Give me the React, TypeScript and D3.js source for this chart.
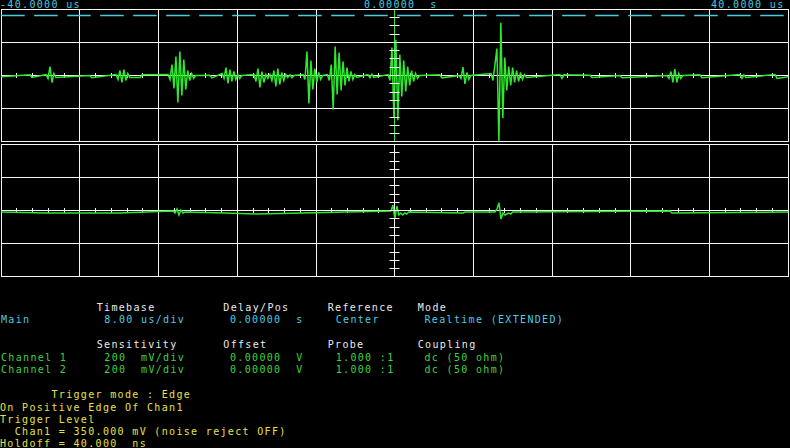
import React from "react";
import * as d3 from "d3";

// ---- data ----
const timeDomain = [-40, 40]; // us
const voltDomain = [-400, 400]; // mV
const divTimeStep = 8; // us/div
const minorTimeStep = 1.6;
const divVoltStep = 200; // mV/div
const minorVoltStep = 50;
const sampleStepUs = 0.2;
const triggerMarkerMv = 360;
const topTimeLabels = ["-40.0000 us", "0.00000  s", "40.0000 us"];

const ch1BaselineMv = -8;
const ch1BurstStartUs = [
  -37.07, -35.44, -31.0, -28.33, -25.89, -23.04, -18.78, -17.55, -14.3, -12.68, -10.64, -9.32,
  -6.85, -2.72, -0.68, 4.6, 6.54, 9.79, 16.8, 19.85, 22.9, 27.68, 31.03, 35.1, 38.66,
];
const ch1BurstMv = [
  [4, -12],
  [6, -18, 54, -42, 12, -12],
  [0, -14],
  [6, -24, 30, -42, 36, -30, 12, -12],
  [-12, 4],
  [6, -24, 66, -78, 114, -162, 144, -120, 96, -84, 30, -30, 12, -18, 0],
  [2, -14],
  [12, -18, 48, -48, 36, -36, 24, -24, 6, -18, 0],
  [6, -36, 42, -72, 24, -42, 6, -18],
  [6, -30, 30, -66, 42, -54, 18, -30, 6, -12],
  [4, -14, 0],
  [6, -24, 144, -168, 90, -84, 42, -42, 18, -24, 0],
  [6, -30, 66, -204, 174, -114, 138, -90, 84, -60, 48, -36, 24, -24, 6, -12],
  [6, -14, 8, -12],
  [6, -30, 168, -252, 216, -270, 126, -126, 90, -96, 54, -60, 30, -36, 12, -18, 0],
  [4, -14],
  [0, -18, 51, -51, 18, -24, 0],
  [12, -30, 66, 162, -396, 318, -258, 108, -90, 54, -60, 48, -42, 30, -36, 18, -24, 6, -12],
  [6, -18, 4],
  [2, -12],
  [0, -14],
  [0, -18, 24, -42, 39, -42, 12, -18, 0],
  [4, -14],
  [6, -18, 4, -12],
  [6, -18],
];

const ch2BaselineMv = -8;
const ch2BurstStartUs = [-35.34, -28.01, -22.53, -17.24, -13.99, -0.38, 6.95, 10.2, 27.98];
const ch2BurstMv = [
  [-14],
  [-14],
  [-2, -14, 10, -26, 4, -14, -8],
  [-14],
  [-20],
  [-2, 34, -50, 28, -26, -14, -26, -14, -20, -8],
  [-14, -8],
  [-8, 10, 48, -50, -14, -26, -20, -14, -20, -8],
  [-2, -14],
];

const infoHeaders1 = ["Timebase", "Delay/Pos", "Reference", "Mode"];
const infoMain = ["Main", "8.00 us/div", "0.00000  s", "Center", "Realtime (EXTENDED)"];
const infoHeaders2 = ["Sensitivity", "Offset", "Probe", "Coupling"];
const infoCh1 = ["Channel 1", "200  mV/div", "0.00000  V", "1.000 :1", "dc (50 ohm)"];
const infoCh2 = ["Channel 2", "200  mV/div", "0.00000  V", "1.000 :1", "dc (50 ohm)"];
const triggerLines = [
  "       Trigger mode : Edge",
  "On Positive Edge Of Chan1",
  "Trigger Level",
  "  Chan1 = 350.000 mV (noise reject OFF)",
  "Holdoff = 40.000  ns",
];

// ---- styles ----
const C = {
  grid: "#f6f6f6",
  cyan: "#4ccbe0",
  trace: "#2ee82e",
  green: "#3fd43f",
  yellow: "#e6e14a",
  white: "#eaeaea",
};
const FONT = "'DejaVu Sans Mono', monospace";

const crisp = (v: number) => Math.floor(v) + 0.5;

function tracePoints(baseline: number, starts: number[], bursts: number[][]) {
  const pts: [number, number][] = [[timeDomain[0], baseline]];
  starts.forEach((s, i) => bursts[i].forEach((v, j) => pts.push([s + j * sampleStepUs, v])));
  pts.push([timeDomain[1], baseline]);
  return pts;
}

function T({ x, y, color, children, anchor }: any) {
  return (
    <text
      x={x}
      y={y}
      fill={color}
      textAnchor={anchor || "start"}
      style={{ fontFamily: FONT, fontSize: 10, letterSpacing: 1.33, whiteSpace: "pre" }}
    >
      {children}
    </text>
  );
}

export default function App() {
  const W = 790;
  const H = 448;
  const x = d3.scaleLinear().domain(timeDomain).range([1.2, 788.2]);
  const y1 = d3.scaleLinear().domain(voltDomain).range([141.9, 9.1]);
  const y2 = d3.scaleLinear().domain(voltDomain).range([276.9, 144.5]);

  const nDiv = (timeDomain[1] - timeDomain[0]) / divTimeStep;
  const timeGrid = d3.range(nDiv + 1).map((i) => timeDomain[0] + i * divTimeStep);
  const nMinor = (timeDomain[1] - timeDomain[0]) / minorTimeStep;
  const timeMinor = d3.range(nMinor + 1).map((i) => timeDomain[0] + i * minorTimeStep);
  const nV = (voltDomain[1] - voltDomain[0]) / divVoltStep;
  const voltGrid = d3.range(nV + 1).map((i) => voltDomain[0] + i * divVoltStep);
  const nVm = (voltDomain[1] - voltDomain[0]) / minorVoltStep;
  const voltMinor = d3.range(nVm + 1).map((i) => voltDomain[0] + i * minorVoltStep);

  const xl = x(timeDomain[0]);
  const xr = x(timeDomain[1]);
  const xc = crisp(x(0));

  const panel = (y: d3.ScaleLinear<number, number>, key: string) => {
    const top = y(voltDomain[1]);
    const bot = y(voltDomain[0]);
    const axisY = crisp(y(0));
    return (
      <g key={key}>
        {timeGrid.map((t) => (
          <line key={"v" + t} x1={crisp(x(t))} x2={crisp(x(t))} y1={Math.floor(top)} y2={Math.floor(bot) + 1} stroke={C.grid} strokeWidth={1} />
        ))}
        {voltGrid.map((v) => (
          <line key={"h" + v} x1={Math.floor(xl)} x2={Math.floor(xr) + 1} y1={crisp(y(v))} y2={crisp(y(v))} stroke={C.grid} strokeWidth={1} />
        ))}
        {timeMinor.map((t) => (
          <line key={"tm" + t} x1={crisp(x(t))} x2={crisp(x(t))} y1={axisY - 2.5} y2={axisY + 2.5} stroke={C.grid} strokeWidth={1} />
        ))}
      </g>
    );
  };

  const vTicks = (y: d3.ScaleLinear<number, number>, key: string) => (
    <g key={key}>
      {voltMinor.map((v) => (
        <line key={v} x1={xc - 5} x2={xc + 5} y1={crisp(y(v))} y2={crisp(y(v))} stroke={C.grid} strokeWidth={1} />
      ))}
    </g>
  );

  const line1 = d3
    .line<[number, number]>()
    .x((d) => x(d[0]))
    .y((d) => y1(d[1]));
  const line2 = d3
    .line<[number, number]>()
    .x((d) => x(d[0]))
    .y((d) => y2(d[1]));
  const p1 = line1(tracePoints(ch1BaselineMv, ch1BurstStartUs, ch1BurstMv)) || "";
  const p2 = line2(tracePoints(ch2BaselineMv, ch2BurstStartUs, ch2BurstMv)) || "";

  const colX = [96.7, 223.3, 327.7, 417.7];
  const valX = [1, 104.3, 230, 335.7, 424.5];
  const trigY = [398, 410.5, 423, 435, 447];

  return (
    <svg
      width={W}
      height={H}
      style={{ position: "absolute", left: 0, top: 0, display: "block", background: "#000" }}
    >
      <rect x={0} y={0} width={W} height={H} fill="#000" />
      {panel(y1, "p1")}
      {panel(y2, "p2")}
      <line
        x1={xl}
        x2={xr}
        y1={crisp(y1(triggerMarkerMv))}
        y2={crisp(y1(triggerMarkerMv))}
        stroke={C.cyan}
        strokeWidth={1.5}
        strokeDasharray="23.5 9.5"
      />
      <path d={p1} fill="none" stroke={C.trace} strokeWidth={1.5} />
      <path d={p2} fill="none" stroke={C.trace} strokeWidth={1.5} />
      <line x1={xc} x2={xc} y1={Math.floor(y1(voltDomain[1]))} y2={Math.floor(y1(voltDomain[0])) + 1} stroke={C.trace} strokeWidth={1} />
      {vTicks(y1, "vt1")}
      {vTicks(y2, "vt2")}

      <T x={0} y={8} color={C.cyan}>{topTimeLabels[0]}</T>
      <T x={364} y={8} color={C.cyan}>{topTimeLabels[1]}</T>
      <T x={711} y={8} color={C.cyan}>{topTimeLabels[2]}</T>

      {infoHeaders1.map((s, i) => (
        <T key={"h1" + i} x={colX[i]} y={311} color={C.white}>{s}</T>
      ))}
      {infoMain.map((s, i) => (
        <T key={"m" + i} x={valX[i]} y={323} color={C.cyan}>{s}</T>
      ))}
      {infoHeaders2.map((s, i) => (
        <T key={"h2" + i} x={colX[i]} y={348} color={C.white}>{s}</T>
      ))}
      {infoCh1.map((s, i) => (
        <T key={"c1" + i} x={valX[i]} y={360.5} color={C.green}>{s}</T>
      ))}
      {infoCh2.map((s, i) => (
        <T key={"c2" + i} x={valX[i]} y={373} color={C.green}>{s}</T>
      ))}
      {triggerLines.map((s, i) => (
        <T key={"t" + i} x={0} y={trigY[i]} color={C.yellow}>{s}</T>
      ))}
    </svg>
  );
}
